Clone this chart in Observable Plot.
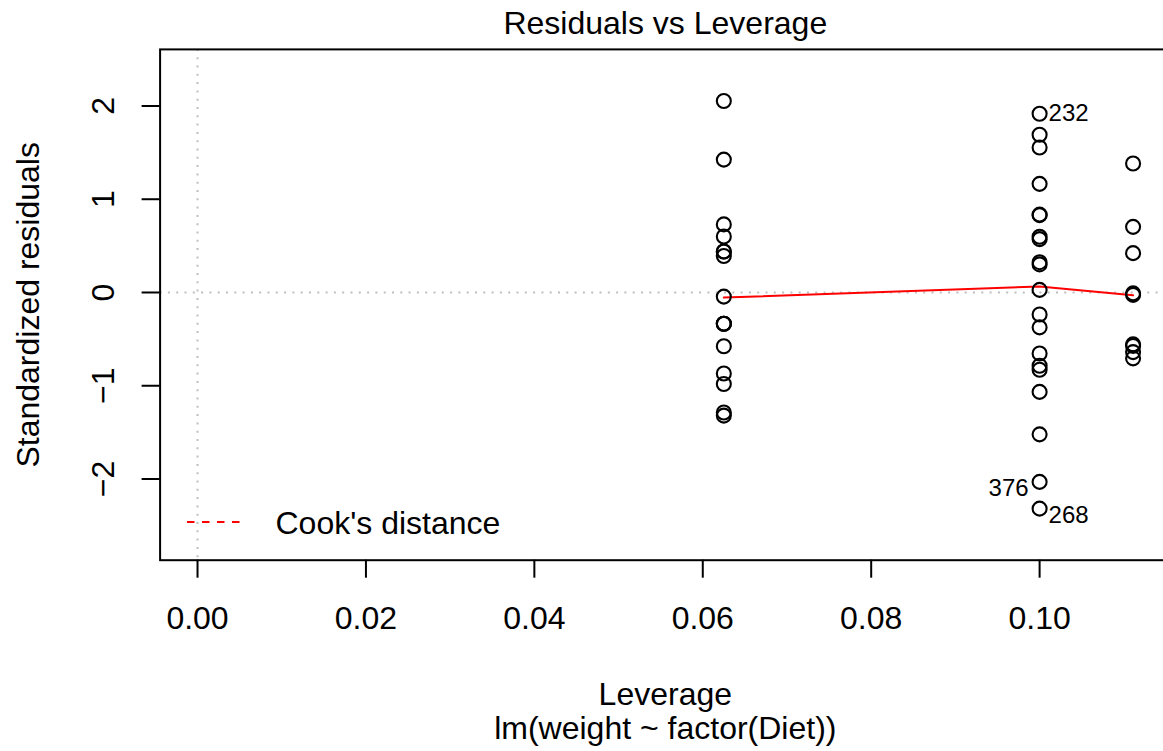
<!DOCTYPE html>
<html>
<head>
<meta charset="utf-8">
<script src="https://cdn.jsdelivr.net/npm/d3@7"></script>
<script src="https://cdn.jsdelivr.net/npm/@observablehq/plot@0.6"></script>
<style>
  html, body { margin: 0; padding: 0; background: white; overflow: hidden; }
  #chart svg { overflow: hidden; }
</style>
</head>
<body>
<div id="chart"></div>
<script>
// ---- data (standardized residuals by Diet group) ----
const groupLeverage = [0.0625, 0.1, 0.1, 0.1111];
const residDiet1 = [0.440, 0.601, 0.391, -0.335, 0.730, -0.335, 2.054, -1.287, -0.868, -0.044, 0.440, -1.320, 1.425, -0.577, -0.335, -0.981];
const residDiet2 = [1.916, -0.786, -0.654, -2.318, 0.829, 0.598, -0.374, 0.301, 1.554, -1.066];
const residDiet3 = [-0.236, 0.572, -2.031, 1.165, 1.692, -0.829, -1.521, 0.325, 0.028, 0.835];
const residDiet4 = [-0.573, 0.704, -0.639, -0.706, -0.009, -0.556, 1.383, -0.026, 0.422];

const smoothLeverage = [0.0625, 0.1, 0.1111];
const smoothValue = [-0.055, 0.065, -0.03];

const labelIds = ["232", "376", "268"];
const labelLeverage = [0.1, 0.1, 0.1];
const labelResid = [1.916, -2.031, -2.318];

const xTicks = [0, 0.02, 0.04, 0.06, 0.08, 0.10];
const yTicks = [-2, -1, 0, 1, 2];

const titleText = "Residuals vs Leverage";
const xLabel = "Leverage";
const subLabel = "lm(weight ~ factor(Diet))";
const yLabel = "Standardized residuals";
const legendLabel = "Cook's distance";

// ---- build tables ----
const groups = [residDiet1, residDiet2, residDiet3, residDiet4];
const points = groups.flatMap((g, i) => g.map(r => ({lev: groupLeverage[i], r})));
const smooth = smoothLeverage.map((l, i) => ({lev: l, r: smoothValue[i]}));
const labels = labelIds.map((id, i) => ({id, lev: labelLeverage[i], r: labelResid[i]}));

const xMax = d3.max(groupLeverage);
const xDomain = [-0.04 * xMax, 1.04 * xMax];
const allR = points.map(d => d.r);
let [rmin, rmax] = d3.extent(allR);
let w = rmax - rmin;
rmin -= 0.08 * w; rmax += 0.08 * w;
w = rmax - rmin;
const yDomain = [rmin - 0.04 * w, rmax + 0.04 * w];

const FONT = "'Liberation Sans', Arial, Helvetica, sans-serif";
const FS = 32;
const FSID = 24;
const minus = s => s.replace("-", "\u2212");

const legendMark = (index, scales, values, dimensions) => {
  const ml = dimensions ? dimensions.marginLeft : 159.6;
  const bottom = dimensions ? dimensions.height - dimensions.marginBottom : 559.7;
  const ns = "http://www.w3.org/2000/svg";
  const line = document.createElementNS(ns, "line");
  line.setAttribute("x1", ml + 27.4);
  line.setAttribute("x2", ml + 83.4);
  line.setAttribute("y1", bottom - 37.7);
  line.setAttribute("y2", bottom - 37.7);
  line.setAttribute("stroke", "#ff0000");
  line.setAttribute("stroke-width", 2);
  line.setAttribute("stroke-dasharray", "7.5,7.5");
  return line;
};

const chart = Plot.plot({
  width: 1163,
  height: 751,
  marginLeft: 159.6,
  marginRight: -7,
  marginTop: 48.9,
  marginBottom: 191.3,
  style: {fontFamily: FONT, background: "white", overflow: "hidden"},
  x: {domain: xDomain, axis: null},
  y: {domain: yDomain, axis: null},
  marks: [
    Plot.ruleX([0], {stroke: "#bebebe", strokeWidth: 2, strokeDasharray: "2,6.3"}),
    Plot.ruleY([0], {stroke: "#bebebe", strokeWidth: 2, strokeDasharray: "2,6.3"}),
    Plot.axisX(xTicks, {tickSize: 18, tickFormat: () => "", stroke: "black", strokeWidth: 2, label: null}),
    Plot.axisY(yTicks, {tickSize: 18, tickFormat: () => "", stroke: "black", strokeWidth: 2, label: null}),
    Plot.text(xTicks, {x: d => d, text: d => d3.format(".2f")(d), frameAnchor: "bottom", lineAnchor: "bottom", dy: 68.3, fontSize: FS, fill: "black"}),
    Plot.text(yTicks, {y: d => d, text: d => minus(String(d)), frameAnchor: "left", rotate: -90, lineAnchor: "bottom", textAnchor: "middle", dx: -46.6, fontSize: FS, fill: "black"}),
    Plot.line(smooth, {x: "lev", y: "r", stroke: "#ff0000", strokeWidth: 2}),
    Plot.dot(points, {x: "lev", y: "r", r: 7, stroke: "black", strokeWidth: 2.1, fill: "none"}),
    Plot.text(labels.filter(d => d.id === "232"), {x: "lev", y: "r", text: "id", textAnchor: "start", lineAnchor: "middle", dx: 9, fontSize: FSID, fill: "black"}),
    Plot.text(labels.filter(d => d.id === "268"), {x: "lev", y: "r", text: "id", textAnchor: "start", lineAnchor: "middle", dx: 9, dy: 6.3, fontSize: FSID, fill: "black"}),
    Plot.text(labels.filter(d => d.id === "376"), {x: "lev", y: "r", text: "id", textAnchor: "end", lineAnchor: "middle", dx: -11, dy: 6.4, fontSize: FSID, fill: "black"}),
    Plot.frame({stroke: "black", strokeWidth: 2}),
    legendMark,
    Plot.text([legendLabel], {text: d => d, frameAnchor: "bottom-left", textAnchor: "start", lineAnchor: "bottom", dx: 115.4, dy: -26.7, fontSize: FS, fill: "black"}),
    Plot.text([titleText], {text: d => d, frameAnchor: "top", lineAnchor: "bottom", dy: -15.9, fontSize: FS, fill: "black"}),
    Plot.text([xLabel], {text: d => d, frameAnchor: "bottom", lineAnchor: "bottom", dy: 144.5, fontSize: FS, fill: "black"}),
    Plot.text([subLabel], {text: d => d, frameAnchor: "bottom", lineAnchor: "bottom", dy: 178.5, fontSize: FS, fill: "black"}),
    Plot.text([yLabel], {text: d => d, frameAnchor: "left", rotate: -90, lineAnchor: "bottom", textAnchor: "middle", dx: -121.6, fontSize: FS, fill: "black"})
  ]
});
document.getElementById("chart").appendChild(chart);
</script>
</body>
</html>
